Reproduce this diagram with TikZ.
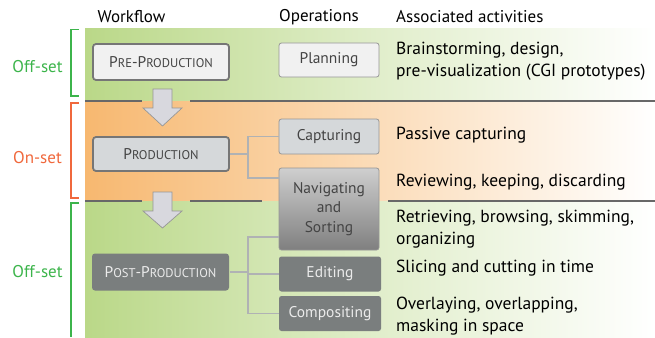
\documentclass[tikz,border=0pt]{standalone}
\usepackage{fontspec}
\setmainfont{PT Sans}
\definecolor{bandgreen}{RGB}{186,216,136}
\definecolor{bandorange}{RGB}{247,184,112}
\definecolor{sepgray}{RGB}{104,104,104}
\definecolor{offgreen}{RGB}{60,180,75}
\definecolor{onorange}{RGB}{240,104,60}
\definecolor{lightbox}{RGB}{241,241,241}
\definecolor{midbox}{RGB}{213,216,218}
\definecolor{darkbox}{RGB}{122,126,126}
\definecolor{boxborder}{RGB}{118,118,118}
\definecolor{opborder}{RGB}{150,150,150}
\definecolor{linkgray}{RGB}{176,178,180}
\definecolor{arrowfill}{RGB}{216,216,222}
\definecolor{textgray}{RGB}{68,68,68}
\newcommand{\scx}[1]{{\fontsize{12.6}{14}\selectfont #1}}
\begin{document}
\begin{tikzpicture}[x=1pt,y=-1pt,
  wfbox/.style={rounded corners=3pt, minimum width=136pt, minimum height=36pt, line width=1.8pt, draw=boxborder, text=textgray, font=\fontsize{15.5}{17}\selectfont, inner sep=0pt},
  opbox/.style={rounded corners=2.5pt, minimum width=100pt, minimum height=35pt, line width=0.8pt, draw=opborder, text=textgray, font=\fontsize{15.5}{19.5}\selectfont, inner sep=0pt, align=center},
  act/.style={anchor=west, align=left, font=\fontsize{17.5}{22}\selectfont, inner sep=0pt},
  head/.style={font=\fontsize{17}{19}\selectfont, inner sep=0pt},
  link/.style={draw=linkgray, line width=1.2pt},
  sep/.style={draw=sepgray, line width=2.6pt},
  blockarrow/.style={fill=arrowfill, draw=opborder, line width=0.7pt, line join=miter},
  brace/.style={line width=1.2pt}
]
\useasboundingbox (0,0) rectangle (655,337);
% bands
\shade[left color=bandgreen, right color=white, middle color=bandgreen!45] (85,29) rectangle (655,101);
\shade[left color=bandorange, right color=white, middle color=bandorange!50] (85,101) rectangle (655,201);
\shade[left color=bandgreen, right color=white, middle color=bandgreen!45] (85,201) rectangle (655,337);
% separators
\draw[sep] (85,101) -- (142,101);
\draw[sep] (190,101) -- (655,101);
\draw[sep] (85,201) -- (142,201);
\draw[sep] (190,201) -- (262,201);
\draw[sep] (388,201) -- (655,201);
% block arrows
\draw[blockarrow] (153,89) -- (172,89) -- (172,108) -- (182,108) -- (162.5,126) -- (143,108) -- (153,108) -- cycle;
\draw[blockarrow] (153,192) -- (172,192) -- (172,211) -- (182,211) -- (162.5,228) -- (143,211) -- (153,211) -- cycle;
% headers
\node[head] (hwf) at (131.5,17) {Workflow};
\node[head] (hop) at (319,17) {Operations};
\node[head, anchor=west] (hact) at (396,17) {Associated activities};
% brackets
\draw[brace, draw=offgreen] (79,29.5) -- (71,29.5) -- (71,96) -- (79,96);
\draw[brace, draw=onorange] (79,103) -- (71,103) -- (71,198) -- (79,198);
\draw[brace, draw=offgreen] (79,203) -- (71,203) -- (71,337);
\node[head, text=offgreen] (off1) at (37.5,67) {Off-set};
\node[head, text=onorange] (on1) at (37.5,158) {On-set};
\node[head, text=offgreen] (off2) at (37.5,272) {Off-set};
% workflow boxes
\node[wfbox, fill=lightbox] (pre) at (161,62) {P\scx{RE}-P\scx{RODUCTION}};
\node[wfbox, fill=midbox, minimum height=34pt] (prod) at (161,154) {P\scx{RODUCTION}};
\node[wfbox, fill=darkbox, draw=none, text=white!92!black, minimum width=137pt, minimum height=37pt] (post) at (160.5,272) {P\scx{OST}-P\scx{RODUCTION}};
% operation boxes
\node[opbox, fill=lightbox, minimum height=34pt] (plan) at (329,60) {Planning};
\node[opbox, fill=midbox] (cap) at (329,136.5) {Capturing};
\node[opbox, top color=black!19, bottom color=black!50, minimum height=82pt] (nav) at (329,209) {Navigating\\and\\Sorting};
\node[opbox, fill=darkbox, draw=none, text=white!92!black, minimum width=102pt] (edit) at (330,274) {Editing};
\node[opbox, fill=darkbox, draw=none, text=white!92!black, minimum width=102pt] (comp) at (330,313.5) {Compositing};
% connectors
\coordinate (jA) at (248,0);
\draw[link] (prod.east) -- (prod.east -| jA);
\draw[link] (cap.west) -- (cap.west -| jA) -- ([yshift=31pt]nav.west -| jA) -- ([yshift=31pt]nav.west);
\draw[link] (post.east) -- (post.east -| jA);
\draw[link] ([yshift=-28pt]nav.west) -- ([yshift=-28pt]nav.west -| jA) -- (comp.west -| jA) -- (comp.west);
\draw[link] (edit.west) -- (edit.west -| jA);
% activities
\node[act] (a1) at (396,61) {Brainstorming, design,\\pre-visualization (CGI prototypes)};
\node[act] (a2) at (396,135) {Passive capturing};
\node[act] (a3) at (396,182) {Reviewing, keeping, discarding};
\node[act] (a4) at (396,229) {Retrieving, browsing, skimming,\\organizing};
\node[act] (a5) at (396,268) {Slicing and cutting in time};
\node[act] (a6) at (396,316.5) {Overlaying, overlapping,\\masking in space};
\end{tikzpicture}
\end{document}
